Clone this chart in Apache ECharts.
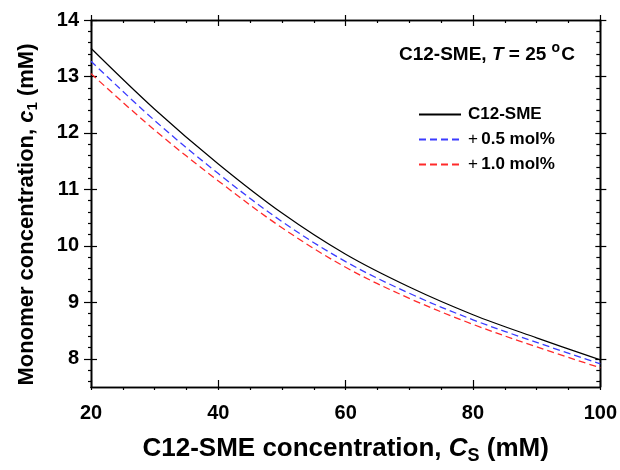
<!DOCTYPE html>
<html>
<head>
<meta charset="utf-8">
<script src="https://cdn.jsdelivr.net/npm/echarts@6/dist/echarts.min.js"></script>
<style>html,body{margin:0;padding:0;background:#fff}#c{width:620px;height:470px}</style>
</head>
<body>
<div id="c"></div>
<script>
// ---- data ----
var concentrations = [20, 30, 40, 50, 60, 70, 80, 90, 100];          // C_S (mM)
var seriesNames = ['C12-SME', '+ 0.5 mol%', '+ 1.0 mol%'];
var c1Pure  = [13.50, 12.42, 11.45, 10.58, 9.85, 9.27, 8.78, 8.37, 7.98];
var c1Half  = [13.27, 12.22, 11.28, 10.43, 9.72, 9.16, 8.69, 8.29, 7.91];
var c1One   = [13.05, 12.05, 11.15, 10.32, 9.62, 9.07, 8.61, 8.21, 7.84];
var xTicks = [20, 40, 60, 80, 100];
var yMajorTicks = [8, 9, 10, 11, 12, 13, 14];
var yMinorTicks = [7.6, 7.8, 8.2, 8.4, 8.6, 8.8, 9.2, 9.4, 9.6, 9.8, 10.2, 10.4, 10.6, 10.8,
                   11.2, 11.4, 11.6, 11.8, 12.2, 12.4, 12.6, 12.8, 13.2, 13.4, 13.6, 13.8];

var FONT = '"Liberation Sans", Arial, sans-serif';
var colors = ['#000000', '#3b3bff', '#ff2a2a'];
var X_MIN = xTicks[0], X_MAX = xTicks[xTicks.length - 1], Y_MIN = 7.5, Y_MAX = 14;

function pairs(xs, ys) { return xs.map(function (x, i) { return [x, ys[i]]; }); }

var axisLine = { show: true, onZero: false, lineStyle: { color: '#000', width: 1.4 } };
function xAx(pos, opts) {
  return Object.assign({
    type: 'value', position: pos, min: X_MIN, max: X_MAX, interval: 20,
    axisLine: axisLine, splitLine: { show: false }, axisLabel: { show: false },
    axisTick: { show: false }, minorTick: { show: false }
  }, opts);
}
function yAx(pos, opts) {
  return Object.assign({
    type: 'value', position: pos, min: Y_MIN, max: Y_MAX,
    axisLine: axisLine, splitLine: { show: false }, axisLabel: { show: false },
    axisTick: { show: false }, minorTick: { show: false }
  }, opts);
}
var tickStyle = { color: '#000', width: 1.2 };

var chart = echarts.init(document.getElementById('c'), null, { renderer: 'canvas' });
chart.setOption({
  animation: false,
  backgroundColor: '#fff',
  grid: { left: 91, right: 18, top: 20, bottom: 82 },
  title: {
    left: 394, top: 36,
    text: '{b|C12-SME, }{i|T}{n| = }{b|25 }{sup|o}{b|C}',
    textStyle: {
      rich: {
        b: { fontFamily: FONT, fontWeight: 'bold', fontSize: 19, color: '#000' },
        i: { fontFamily: FONT, fontWeight: 'bold', fontStyle: 'italic', fontSize: 19, color: '#000' },
        n: { fontFamily: FONT, fontSize: 19, color: '#000' },
        sup: { fontFamily: FONT, fontWeight: 'bold', fontSize: 14, color: '#000', padding: [0, 1, 13, 0] }
      }
    }
  },
  legend: {
    orient: 'vertical', left: 413, top: 101, itemWidth: 42, itemHeight: 14, itemGap: 8,
    itemStyle: { opacity: 0 },
    data: seriesNames,
    formatter: function (name) {
      if (name.charAt(0) === '+') return '{n|+} {b|' + name.slice(2) + '}';
      return '{b|' + name + '}';
    },
    textStyle: {
      padding: [0, 0, 0, 2],
      rich: {
        b: { fontFamily: FONT, fontWeight: 'bold', fontSize: 17, color: '#000' },
        n: { fontFamily: FONT, fontSize: 17, color: '#000' }
      }
    }
  },
  xAxis: [
    xAx('bottom', {
      axisLabel: { show: true, margin: 16, color: '#000', fontFamily: FONT, fontWeight: 'bold', fontSize: 20 },
      axisTick: { show: true, inside: true, length: 7, lineStyle: tickStyle },
      name: '{b|C12-SME concentration, }{i|C}{sub|S}{b| (mM)}',
      nameLocation: 'middle', nameGap: 46,
      nameTextStyle: {
        rich: {
          b: { fontFamily: FONT, fontWeight: 'bold', fontSize: 26, color: '#000' },
          i: { fontFamily: FONT, fontWeight: 'bold', fontStyle: 'italic', fontSize: 26, color: '#000' },
          sub: { fontFamily: FONT, fontWeight: 'bold', fontSize: 18, color: '#000', padding: [14, 0, 0, 0] }
        }
      }
    }),
    xAx('bottom', {
      axisTick: { show: true, inside: false, length: 3, lineStyle: tickStyle },
      minorTick: { show: true, splitNumber: 4, length: 3, lineStyle: tickStyle }
    }),
    xAx('top', {
      axisTick: { show: true, inside: true, length: 6, lineStyle: tickStyle },
      minorTick: { show: true, splitNumber: 4, length: 3, lineStyle: tickStyle }
    }),
    xAx('top', {
      axisTick: { show: true, inside: false, length: 5, lineStyle: tickStyle }
    })
  ],
  yAxis: [
    yAx('left', {
      axisLabel: { show: true, customValues: yMajorTicks, margin: 12, color: '#000', fontFamily: FONT, fontWeight: 'bold', fontSize: 20 },
      axisTick: { show: true, customValues: yMajorTicks, inside: true, length: 6, lineStyle: tickStyle },
      name: '{b|Monomer concentration, }{i|c}{sub|1}{b| (mM)}',
      nameLocation: 'middle', nameGap: 51, nameRotate: 90,
      nameTextStyle: {
        padding: [0, 22, 0, 0],
        rich: {
          b: { fontFamily: FONT, fontWeight: 'bold', fontSize: 22, color: '#000' },
          i: { fontFamily: FONT, fontWeight: 'bold', fontStyle: 'italic', fontSize: 22, color: '#000' },
          sub: { fontFamily: FONT, fontWeight: 'bold', fontSize: 15, color: '#000', padding: [12, 0, 0, 0] }
        }
      }
    }),
    yAx('left', {
      axisTick: { show: true, customValues: yMajorTicks, inside: false, length: 7, lineStyle: tickStyle }
    }),
    yAx('left', {
      axisTick: { show: true, customValues: yMinorTicks, inside: false, length: 3, lineStyle: tickStyle }
    }),
    yAx('right', {
      axisTick: { show: true, customValues: yMinorTicks, inside: true, length: 4, lineStyle: tickStyle }
    }),
    yAx('right', {
      axisTick: { show: true, customValues: yMajorTicks, inside: true, length: 5, lineStyle: tickStyle }
    }),
    yAx('right', {
      axisTick: { show: true, customValues: yMajorTicks, inside: false, length: 6, lineStyle: tickStyle }
    })
  ],
  series: [c1Pure, c1Half, c1One].map(function (ys, i) {
    return {
      type: 'line', name: seriesNames[i], xAxisIndex: 0, yAxisIndex: 0,
      data: pairs(concentrations, ys), smooth: 0.35, symbol: 'none', showSymbol: false,
      color: colors[i],
      lineStyle: { color: colors[i], width: i === 0 ? 1.2 : 1.3, type: i === 0 ? 'solid' : [7, 4] }
    };
  })
});
</script>
</body>
</html>
